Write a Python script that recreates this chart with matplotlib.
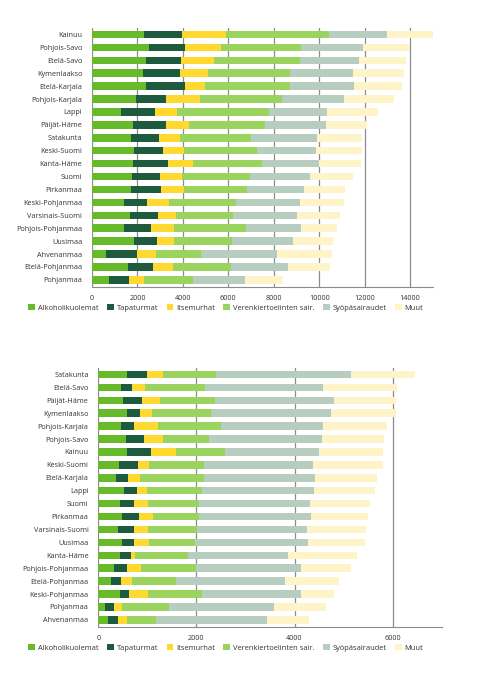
import numpy as np
import matplotlib
matplotlib.use("Agg")
import matplotlib.pyplot as plt
from matplotlib.patches import Patch

plt.rcParams['font.family'] = ['Open Sans', 'DejaVu Sans']

causes = ["Alkoholikuolemat", "Tapaturmat", "Itsemurhat",
          "Verenkiertoelinten sair.", "Syöpäsairaudet", "Muut"]
colors = ["#67bb2a", "#1e5a3e", "#ffd92f", "#9bd35f", "#b6cdbf", "#fff4c8"]

# top chart
top_regions = ["Kainuu", "Pohjois-Savo", "Etelä-Savo", "Kymenlaakso", "Etelä-Karjala",
               "Pohjois-Karjala", "Lappi", "Päijät-Häme", "Satakunta", "Keski-Suomi",
               "Kanta-Häme", "Suomi", "Pirkanmaa", "Keski-Pohjanmaa", "Varsinais-Suomi",
               "Pohjois-Pohjanmaa", "Uusimaa", "Ahvenanmaa", "Etelä-Pohjanmaa", "Pohjanmaa"]
top_alko = [2290, 2520, 2360, 2230, 2360, 1920, 1280, 1790, 1730, 1860,
            1805, 1745, 1700, 1410, 1660, 1395, 1835, 630, 1585, 750]
top_tapat = [1670, 1585, 1555, 1630, 1715, 1320, 1510, 1470, 1235, 1250,
             1525, 1265, 1320, 1030, 1235, 1190, 1025, 1365, 1085, 865]
top_itse = [1940, 1555, 1455, 1230, 895, 1500, 970, 1025, 895, 955,
            1130, 955, 1015, 925, 820, 1010, 765, 820, 895, 660]
top_veren = [4550, 3540, 3800, 3625, 3745, 3610, 4035, 3315, 3155, 3215,
             3040, 2995, 2775, 2965, 2495, 3170, 2555, 2000, 2555, 2185]
top_syopa = [2520, 2715, 2570, 2790, 2830, 2730, 2555, 2700, 2875, 2580,
             2480, 2625, 2510, 2835, 2820, 2450, 2655, 3345, 2510, 2275]
top_muut = [2080, 2025, 2070, 2245, 2085, 2230, 2230, 1805, 2000, 2010,
            1865, 1910, 1835, 1935, 1880, 1585, 1760, 2405, 1835, 1660]

# bottom chart
bot_regions = ["Satakunta", "Etelä-Savo", "Päijät-Häme", "Kymenlaakso", "Pohjois-Karjala",
               "Pohjois-Savo", "Kainuu", "Keski-Suomi", "Etelä-Karjala", "Lappi",
               "Suomi", "Pirkanmaa", "Varsinais-Suomi", "Uusimaa", "Kanta-Häme",
               "Pohjois-Pohjanmaa", "Etelä-Pohjanmaa", "Keski-Pohjanmaa", "Pohjanmaa", "Ahvenanmaa"]
bot_alko = [580, 470, 510, 590, 455, 565, 590, 420, 355, 525,
            440, 475, 410, 475, 435, 320, 265, 435, 145, 195]
bot_tapat = [420, 210, 380, 265, 270, 375, 475, 395, 250, 260,
             295, 360, 325, 260, 230, 260, 195, 195, 165, 210]
bot_itse = [325, 270, 375, 240, 490, 375, 515, 215, 250, 210,
            285, 280, 280, 290, 75, 300, 225, 380, 170, 185]
bot_veren = [1080, 1230, 1120, 1210, 1285, 945, 1005, 1115, 1305, 1120,
             1035, 945, 1000, 940, 1090, 1115, 895, 1095, 960, 585]
bot_syopa = [2750, 2405, 2425, 2445, 2085, 2295, 1905, 2235, 2265, 2290,
             2265, 2285, 2235, 2315, 2040, 2140, 2225, 2030, 2145, 2255]
bot_muut = [1305, 1510, 1250, 1310, 1305, 1265, 1310, 1415, 1250, 1225,
            1225, 1150, 1215, 1150, 1400, 1015, 1110, 675, 1060, 870]


def draw(ax, regions, series, xmax, ticks, legend_y):
    y = np.arange(len(regions))
    left = np.zeros(len(regions))
    for vals, c in zip(series, colors):
        ax.barh(y, vals, left=left, height=0.58, color=c, zorder=3)
        left += np.array(vals)
    ax.set_yticks(y)
    ax.set_yticklabels(regions)
    ax.set_ylim(len(regions) - 0.45, -0.5)
    ax.set_xlim(0, xmax)
    ax.set_xticks(ticks)
    ax.set_xticklabels([str(t) for t in ticks])
    ax.grid(axis="x", color="#8c8c8c", linewidth=0.9, zorder=0)
    for s in ["top", "right", "left"]:
        ax.spines[s].set_visible(False)
    ax.spines["bottom"].set_color("#8c8c8c")
    ax.tick_params(axis="both", length=0, labelsize=5.2, colors="#333333", pad=7)
    ax.tick_params(axis="x", pad=6)
    handles = [Patch(facecolor=c, label=n) for n, c in zip(causes, colors)]
    fig.legend(handles=handles, loc="center left", bbox_to_anchor=(0.045, legend_y),
               ncol=6, frameon=False, fontsize=5.4, handlelength=0.9, handleheight=0.9,
               handletextpad=0.35, columnspacing=1.15, labelcolor="#333333")


fig = plt.figure(figsize=(4.82, 6.83), dpi=100)
ax1 = fig.add_axes([0.191, 0.5798, 0.707, 0.3792])
ax2 = fig.add_axes([0.204, 0.082, 0.7124, 0.3792])

draw(ax1, top_regions, [top_alko, top_tapat, top_itse, top_veren, top_syopa, top_muut],
     15000, [0, 2000, 4000, 6000, 8000, 10000, 12000, 14000], 1 - 308 / 683)
draw(ax2, bot_regions, [bot_alko, bot_tapat, bot_itse, bot_veren, bot_syopa, bot_muut],
     7000, [0, 2000, 4000, 6000], 1 - 648 / 683)

fig.savefig("out.png", dpi=100)
